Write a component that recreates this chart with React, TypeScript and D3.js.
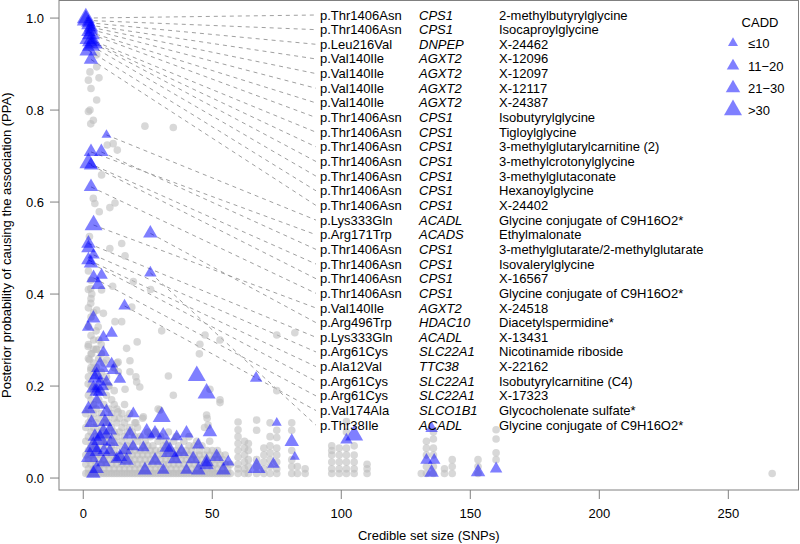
import React from "react";
import * as d3 from "d3";

// ---- Labelled variants (table on the right) ----
const variants = [
  "p.Thr1406Asn", "p.Thr1406Asn", "p.Leu216Val", "p.Val140Ile", "p.Val140Ile", "p.Val140Ile", "p.Val140Ile",
  "p.Thr1406Asn", "p.Thr1406Asn", "p.Thr1406Asn", "p.Thr1406Asn", "p.Thr1406Asn", "p.Thr1406Asn", "p.Thr1406Asn",
  "p.Lys333Gln", "p.Arg171Trp", "p.Thr1406Asn", "p.Thr1406Asn", "p.Thr1406Asn", "p.Thr1406Asn", "p.Val140Ile",
  "p.Arg496Trp", "p.Lys333Gln", "p.Arg61Cys", "p.Ala12Val", "p.Arg61Cys", "p.Arg61Cys", "p.Val174Ala", "p.Thr38Ile",
];
const genes = [
  "CPS1", "CPS1", "DNPEP", "AGXT2", "AGXT2", "AGXT2", "AGXT2",
  "CPS1", "CPS1", "CPS1", "CPS1", "CPS1", "CPS1", "CPS1",
  "ACADL", "ACADS", "CPS1", "CPS1", "CPS1", "CPS1", "AGXT2",
  "HDAC10", "ACADL", "SLC22A1", "TTC38", "SLC22A1", "SLC22A1", "SLCO1B1", "ACADL",
];
const metabolites = [
  "2-methylbutyrylglycine", "Isocaproylglycine", "X-24462", "X-12096", "X-12097", "X-12117", "X-24387",
  "Isobutyrylglycine", "Tigloylglycine", "3-methylglutarylcarnitine (2)", "3-methylcrotonylglycine",
  "3-methylglutaconate", "Hexanoylglycine", "X-24402", "Glycine conjugate of C9H16O2*", "Ethylmalonate",
  "3-methylglutarate/2-methylglutarate", "Isovalerylglycine", "X-16567", "Glycine conjugate of C9H16O2*",
  "X-24518", "Diacetylspermidine*", "X-13431", "Nicotinamide riboside", "X-22162", "Isobutyrylcarnitine (C4)",
  "X-17323", "Glycocholenate sulfate*", "Glycine conjugate of C9H16O2*",
];
const labelledSize = [1, 1, 2, 2, 3, 3, 2, 3, 2, 3, 4, 3, 2, 3, 9, 3, 7, 2, 3, 3, 4, 26, 2, 4, 2, 3, 4, 16, 26];
const labelledPPA = [1.0, 0.995, 0.99, 0.985, 0.98, 0.975, 0.97, 0.965, 0.955, 0.95, 0.945, 0.94, 0.93, 0.91,
  0.746, 0.709, 0.709, 0.685, 0.68, 0.633, 0.55, 0.532, 0.51, 0.485, 0.474, 0.467, 0.435, 0.374, 0.446];
const labelledCADD = [4, 4, 3, 3, 3, 3, 3, 4, 4, 4, 4, 4, 4, 3, 1, 3, 3, 4, 3, 3, 4, 3, 3, 2, 3, 3, 3, 2, 2];

// ---- Other missense variants (triangles): [set size, PPA, CADD class] ----
const triangles: [number, number, number][] = [
  [2, 0.5, 3], [7.1, 0.441, 2], [5.8, 0.42, 3], [3.9, 0.347, 3], [1.9, 0.328, 2], [7.8, 0.306, 2],
  [11, 0.315, 2], [7.8, 0.273, 2], [6.5, 0.242, 4], [11, 0.248, 2], [11.6, 0.234, 2], [14.2, 0.215, 2],
  [4.5, 0.217, 3], [5.2, 0.224, 3], [6.5, 0.202, 4], [9, 0.209, 2], [5.2, 0.188, 3], [44, 0.222, 4],
  [67, 0.217, 2], [47.8, 0.184, 4], [3.9, 0.195, 3], [6.5, 0.188, 3], [5.2, 0.162, 4], [9, 0.144, 3],
  [8.4, 0.122, 3], [10.3, 0.104, 3], [7.8, 0.097, 4], [6.5, 0.083, 4], [11, 0.079, 3], [3.9, 0.068, 4],
  [5.2, 0.057, 3], [2.6, 0.046, 4], [10.3, 0.057, 3], [14.2, 0.046, 3], [16.2, 0.061, 3], [19.3, 0.068, 2],
  [19.4, 0.14, 2], [18.1, 0.095, 3], [24.6, 0.097, 4], [27.8, 0.097, 3], [30.4, 0.133, 4], [31, 0.093, 3],
  [23.3, 0.066, 2], [32.3, 0.066, 3], [33.6, 0.057, 4], [36.2, 0.09, 2], [38.1, 0.057, 3], [40, 0.097, 3],
  [44.6, 0.072, 2], [49.1, 0.1, 3], [42.6, 0.041, 3], [47.8, 0.035, 3], [51.7, 0.046, 3], [56.2, 0.035, 2],
  [54.3, 0.017, 3], [23.9, 0.017, 3], [31, 0.017, 2], [40, 0.017, 2], [44.6, 0.017, 3], [47.8, 0.028, 3],
  [3.9, 0.01, 3], [5.2, 0.02, 3], [7.8, 0.035, 3], [12.9, 0.041, 2], [16.8, 0.038, 3], [27.8, 0.038, 3],
  [35.5, 0.041, 3], [67.2, 0.022, 4], [75, 0.12, 1], [80.8, 0.079, 3], [82, 0.046, 1], [73.7, 0.03, 2],
  [102, 0.083, 2], [105, 0.093, 4], [135, 0.108, 2], [133, 0.039, 2], [136, 0.039, 2], [135, 0.012, 3],
  [153, 0.013, 3], [160, 0.02, 2], [3.2, 0.12, 3], [4.5, 0.09, 3], [2, 0.15, 3], [8, 0.06, 2],
];

// ---- Non-coding variants (grey circles): columns of [set size, PPA values] ----
const greyColumns: [number, number[]][] = [
  [1, [0.01, 0.03, 0.05, 0.08, 0.11, 0.14]],
  [2, [0.01, 0.02, 0.04, 0.06, 0.09, 0.12, 0.15, 0.18, 0.22, 0.26, 0.29, 0.33, 0.37, 0.41, 0.45]],
  [3, [0.01, 0.03, 0.05, 0.07, 0.1, 0.13, 0.17, 0.2, 0.24, 0.27, 0.31, 0.35, 0.39, 0.43]],
  [4, [0.01, 0.02, 0.04, 0.06, 0.08, 0.11, 0.14, 0.16, 0.19, 0.23, 0.25, 0.28, 0.3, 0.36]],
  [5, [0.01, 0.03, 0.05, 0.07, 0.09, 0.12, 0.15, 0.2, 0.24, 0.28, 0.32]],
  [6, [0.01, 0.02, 0.04, 0.06, 0.1, 0.13, 0.17, 0.22, 0.26, 0.3]],
  [7, [0.01, 0.03, 0.05, 0.08, 0.11, 0.14, 0.19, 0.23, 0.27, 0.29]],
  [8, [0.01, 0.02, 0.04, 0.07, 0.09, 0.12, 0.16, 0.21, 0.25]],
  [9, [0.01, 0.03, 0.05, 0.08, 0.1, 0.13, 0.18, 0.22]],
  [10, [0.01, 0.02, 0.04, 0.06, 0.09, 0.12, 0.15, 0.2]],
  [11, [0.01, 0.03, 0.05, 0.07, 0.11, 0.14, 0.17]],
  [12, [0.01, 0.02, 0.04, 0.06, 0.08, 0.1, 0.13, 0.16, 0.24]],
  [13, [0.01, 0.03, 0.05, 0.09, 0.12, 0.15, 0.25]],
  [14, [0.01, 0.02, 0.04, 0.07, 0.1, 0.13]],
  [15, [0.01, 0.03, 0.05, 0.08, 0.11, 0.14]],
  [16, [0.01, 0.02, 0.04, 0.06, 0.09, 0.12]],
  [17, [0.01, 0.03, 0.05, 0.07, 0.1, 0.13]],
  [18, [0.01, 0.02, 0.04, 0.06, 0.08, 0.11, 0.14]],
  [19, [0.01, 0.03, 0.05, 0.07, 0.1]],
  [20, [0.01, 0.02, 0.04, 0.06, 0.09, 0.12]],
  [21, [0.01, 0.03, 0.05, 0.08, 0.11]],
  [22, [0.01, 0.02, 0.04, 0.06, 0.09]],
  [23, [0.01, 0.03, 0.05, 0.07, 0.13]],
  [24, [0.01, 0.02, 0.04, 0.06, 0.08]],
  [25, [0.01, 0.03, 0.05, 0.07, 0.1]],
  [26, [0.01, 0.02, 0.04, 0.06, 0.09]],
  [27, [0.01, 0.03, 0.05, 0.07]],
  [28, [0.01, 0.02, 0.04, 0.06, 0.1]],
  [29, [0.01, 0.03, 0.05, 0.08, 0.15]],
  [30, [0.01, 0.02, 0.04, 0.06, 0.09]],
  [31, [0.01, 0.03, 0.05, 0.07]],
  [32, [0.01, 0.02, 0.04, 0.06, 0.08]],
  [33, [0.01, 0.03, 0.05, 0.07, 0.1]],
  [34, [0.01, 0.02, 0.04, 0.06]],
  [35, [0.01, 0.03, 0.05, 0.08]],
  [36, [0.01, 0.02, 0.04, 0.06, 0.09]],
  [37, [0.01, 0.03, 0.05, 0.07]],
  [38, [0.01, 0.02, 0.04, 0.06]],
  [39, [0.01, 0.03, 0.05, 0.08]],
  [40, [0.01, 0.02, 0.04, 0.06]],
  [41, [0.01, 0.03, 0.05, 0.07, 0.09]],
  [42, [0.01, 0.02, 0.04, 0.06]],
  [43, [0.01, 0.03, 0.05, 0.07]],
  [44, [0.01, 0.02, 0.04, 0.08]],
  [45, [0.01, 0.03, 0.05, 0.06]],
  [46, [0.01, 0.02, 0.04, 0.07]],
  [47, [0.01, 0.03, 0.05, 0.11]],
  [48, [0.01, 0.02, 0.04, 0.06, 0.13]],
  [49, [0.01, 0.03, 0.05, 0.08]],
  [50, [0.01, 0.02, 0.04, 0.06]],
  [51, [0.01, 0.03, 0.05]],
  [52, [0.01, 0.02, 0.04, 0.06]],
  [53, [0.01, 0.03, 0.05]],
  [54, [0.01, 0.02, 0.04]],
  [55, [0.01, 0.03, 0.05]],
  [56, [0.01, 0.02]],
  [57, [0.01, 0.03]],
  [60, [0.01, 0.02, 0.03, 0.045, 0.06, 0.075, 0.09, 0.105, 0.122]],
  [62.5, [0.01, 0.02, 0.035, 0.05, 0.065, 0.08]],
  [64, [0.01, 0.025, 0.04, 0.06, 0.075]],
  [67.2, [0.01, 0.025, 0.04, 0.104, 0.126]],
  [70, [0.01, 0.02, 0.035, 0.05, 0.065]],
  [72.4, [0.01, 0.025, 0.04, 0.055, 0.07, 0.09, 0.12]],
  [75, [0.01, 0.02, 0.035, 0.05, 0.065, 0.088, 0.104]],
  [80.8, [0.01, 0.025, 0.04, 0.06, 0.104, 0.12]],
  [83, [0.01, 0.025]],
  [86, [0.01, 0.02]],
  [96.3, [0.01, 0.02, 0.035, 0.05, 0.06, 0.07]],
  [99.2, [0.01, 0.02, 0.035, 0.05, 0.065]],
  [102, [0.01, 0.02, 0.035, 0.05, 0.065, 0.1, 0.123]],
  [105, [0.01, 0.02, 0.035, 0.05, 0.07]],
  [110, [0.01, 0.02, 0.03]],
  [131, [0.01]],
  [133, [0.01, 0.025, 0.05, 0.065, 0.08]],
  [135.7, [0.01, 0.025, 0.05, 0.065, 0.085, 0.1]],
  [140, [0.01, 0.02]],
  [143, [0.01, 0.025, 0.04]],
  [153, [0.01, 0.025, 0.04]],
  [160, [0.04, 0.055, 0.085, 0.105]],
  [267, [0.01]],
];

// scattered grey circles: [set size, PPA]
const greyScattered: [number, number][] = [
  [5.2, 0.92], [5.2, 0.894], [2.6, 0.883], [2, 0.865], [6.1, 0.87], [3, 0.847], [5.2, 0.822], [2.6, 0.8],
  [2, 0.797], [3.9, 0.778], [2.9, 0.77], [23.9, 0.765], [34.9, 0.762], [9.3, 0.724], [11.6, 0.727],
  [13.2, 0.713], [7.1, 0.659], [3.9, 0.608], [4.5, 0.597], [12.3, 0.598], [10.3, 0.588], [6.2, 0.579],
  [2.4, 0.525], [14.9, 0.51], [10.3, 0.499], [16.2, 0.483], [19.4, 0.427], [26.1, 0.41], [2.9, 0.412],
  [3.3, 0.4], [7.1, 0.409], [11.4, 0.417], [2.9, 0.38], [5.2, 0.365], [7.8, 0.358], [18.8, 0.372],
  [14.9, 0.34], [12.3, 0.34], [5.8, 0.329], [30.4, 0.32], [47.2, 0.311], [45.2, 0.291], [53, 0.3],
  [75, 0.311], [82, 0.316], [45, 0.27], [16.8, 0.282], [20.9, 0.296], [1.9, 0.286], [5.2, 0.28],
  [3.3, 0.27], [9, 0.257], [13.5, 0.252], [18.1, 0.255], [13.6, 0.231], [18.1, 0.231], [33, 0.222],
  [20.7, 0.209], [21.9, 0.198], [16.2, 0.193], [34.9, 0.18], [49.1, 0.193], [53, 0.17], [75, 0.19],
  [1.9, 0.205], [2.9, 0.235], [2.4, 0.257], [53, 0.164], [9.7, 0.2], [20.4, 0.22], [29.7, 0.148],
  [23.3, 0.133], [20.4, 0.12], [13.5, 0.144], [47.8, 0.137], [48.4, 0.115], [16, 0.16], [12, 0.19],
];

// Axis ticks and legend
const xTicks = [0, 50, 100, 150, 200, 250];
const yTicks = [0, 0.2, 0.4, 0.6, 0.8, 1.0];
const caddLabels = ["\u226410", "11\u221220", "21\u221230", ">30"];

const W = 800;
const H = 544;
const left = 59;
const right = 798.5;
const top = 0.5;
const bottom = 490;
const font = "'Liberation Sans', Arial, Helvetica, sans-serif";

const triSide = [0, 10, 12.5, 14.5, 18];

export default function App() {
  const x = d3.scaleLinear().domain([-9.4, 277.2]).range([left, right]);
  const y = d3.scaleLinear().domain([-0.026, 1.0393]).range([bottom, 0]);
  const tri = (cls: number) =>
    d3.symbol().type(d3.symbolTriangle).size((Math.sqrt(3) / 4) * triSide[cls] * triSide[cls])() as string;

  const greyPts: [number, number][] = [];
  greyColumns.forEach(([sx, vals]) => vals.forEach((v) => greyPts.push([sx, v])));
  greyScattered.forEach((p) => greyPts.push(p));

  const rowY = (i: number) => 15 + 14.65 * i;
  const lineEndX = 316;

  return (
    <svg width={W} height={H} style={{ position: "absolute", left: 0, top: 0, background: "#fff" }}
      fontFamily={font}>
      {/* dashed connector lines */}
      <g stroke="#a0a0a0" strokeWidth={1} strokeDasharray="4,4" fill="none">
        {labelledPPA.map((p, i) => (
          <line key={i} x1={x(labelledSize[i])} y1={y(p)} x2={lineEndX} y2={rowY(i)} />
        ))}
      </g>
      {/* grey circles */}
      <g fill="#bebebe" fillOpacity={0.6}>
        {greyPts.map(([sx, p], i) => (
          <circle key={i} cx={x(sx)} cy={y(p)} r={3.8} />
        ))}
      </g>
      {/* triangles */}
      <g fill="#0000ff" fillOpacity={0.5}>
        {triangles.map(([sx, p, c], i) => (
          <path key={i} d={tri(c)} transform={`translate(${x(sx)},${y(p)})`} />
        ))}
        {labelledPPA.map((p, i) => (
          <path key={"l" + i} d={tri(labelledCADD[i])} transform={`translate(${x(labelledSize[i])},${y(p)})`} />
        ))}
      </g>
      {/* box */}
      <rect x={left} y={top} width={right - left} height={bottom - top} fill="none" stroke="#808080" strokeWidth={1} />
      {/* y axis */}
      <g>
        {yTicks.map((t) => (
          <g key={t}>
            <line x1={left - 9} x2={left} y1={y(t)} y2={y(t)} stroke="#808080" />
            <text x={44} y={y(t) + 4.5} textAnchor="end" fontSize={13} fill="#000">
              {t.toFixed(1)}
            </text>
          </g>
        ))}
      </g>
      {/* x axis */}
      <g>
        {xTicks.map((t) => (
          <g key={t}>
            <line x1={x(t)} x2={x(t)} y1={bottom} y2={bottom + 9} stroke="#808080" />
            <text x={x(t)} y={518} textAnchor="middle" fontSize={13} fill="#000">
              {t}
            </text>
          </g>
        ))}
      </g>
      <text x={(left + right) / 2} y={540} textAnchor="middle" fontSize={13}>
        Credible set size (SNPs)
      </text>
      <text transform={`translate(11,${(top + bottom) / 2}) rotate(-90)`} textAnchor="middle" fontSize={13}>
        Posterior probability of causing the association (PPA)
      </text>
      {/* label table */}
      <g fontSize={13} fill="#000">
        {variants.map((v, i) => (
          <g key={i}>
            <text x={320} y={rowY(i) + 4.5}>{v}</text>
            <text x={419} y={rowY(i) + 4.5} fontStyle="italic">{genes[i]}</text>
            <text x={499} y={rowY(i) + 4.5}>{metabolites[i]}</text>
          </g>
        ))}
      </g>
      {/* legend */}
      <g>
        <text x={760} y={27} textAnchor="middle" fontSize={13}>CADD</text>
        {caddLabels.map((lab, i) => {
          const ly = [43, 66, 88, 110][i];
          return (
            <g key={lab}>
              <path d={tri(i + 1)} transform={`translate(733,${ly})`} fill="#0000ff" fillOpacity={0.5} />
              <text x={748} y={ly + 4.5} fontSize={13}>{lab}</text>
            </g>
          );
        })}
      </g>
    </svg>
  );
}
